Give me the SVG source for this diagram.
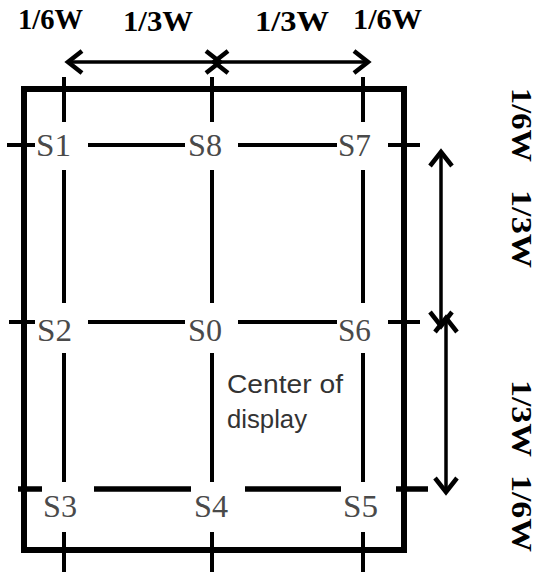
<svg xmlns="http://www.w3.org/2000/svg" width="538" height="575" viewBox="0 0 538 575">
<style>
.frame{fill:none;stroke:#000;stroke-width:6}
.g{stroke:#000;stroke-width:4;fill:none}
.gb{stroke:#000;stroke-width:5.5;fill:none}
.ar{stroke:#000;stroke-width:3.5;fill:none}
.s{font-family:"Liberation Serif","Times New Roman",serif;font-size:31px;fill:#4a4a4a}
.dim{font-family:"Liberation Serif","Times New Roman",serif;font-size:30px;font-weight:bold;fill:#000}
.c{font-family:"Liberation Sans",Arial,sans-serif;font-size:25px;fill:#333}
</style>
<defs>
<marker id="ah" viewBox="-18 -14 26 28" refX="0" refY="0" markerWidth="26" markerHeight="28" markerUnits="userSpaceOnUse" orient="auto-start-reverse">
<path d="M-14,-11 L0,0 L-14,11" fill="none" stroke="#000" stroke-width="4.5"/>
</marker>
</defs>
<rect id="display" class="frame" x="24" y="89" width="380" height="461"/>
<g id="grid">
<path class="g" d="M64,77V122M64,170V303M64,353V482M64,532V572"/>
<path class="g" d="M212,77V122M212,170V303M212,353V482M212,532V572"/>
<path class="g" d="M363,77V122M363,170V303M363,353V482M363,532V572"/>
<path class="g" d="M7,145H35M88,145H185M238,145H337M388,145H420"/>
<path class="g" d="M9,322H35M88,322H185M238,322H337M388,322H420"/>
<path class="gb" d="M18,489H42M94,489H191M245,489H341M396,489H428"/>
</g>
<g id="connectors">
<line class="ar" x1="68" y1="62" x2="220" y2="62" marker-start="url(#ah)" marker-end="url(#ah)"/>
<line class="ar" x1="214" y1="62" x2="368" y2="62" marker-start="url(#ah)" marker-end="url(#ah)"/>
<line class="ar" x1="441" y1="152" x2="441" y2="326" marker-start="url(#ah)" marker-end="url(#ah)"/>
<line class="ar" x1="446" y1="318" x2="446" y2="492" marker-start="url(#ah)" marker-end="url(#ah)"/>
</g>
<g id="S1"><text class="s" x="36" y="156" textLength="35" lengthAdjust="spacingAndGlyphs">S1</text></g>
<g id="S8"><text class="s" x="188" y="156" textLength="34" lengthAdjust="spacingAndGlyphs">S8</text></g>
<g id="S7"><text class="s" x="338" y="156" textLength="33" lengthAdjust="spacingAndGlyphs">S7</text></g>
<g id="S2"><text class="s" x="37" y="341" textLength="35" lengthAdjust="spacingAndGlyphs">S2</text></g>
<g id="S0"><text class="s" x="188" y="341" textLength="34" lengthAdjust="spacingAndGlyphs">S0</text></g>
<g id="S6"><text class="s" x="338" y="341" textLength="33" lengthAdjust="spacingAndGlyphs">S6</text></g>
<g id="S3"><text class="s" x="43" y="517" textLength="34" lengthAdjust="spacingAndGlyphs">S3</text></g>
<g id="S4"><text class="s" x="194" y="517" textLength="34" lengthAdjust="spacingAndGlyphs">S4</text></g>
<g id="S5"><text class="s" x="343" y="517" textLength="35" lengthAdjust="spacingAndGlyphs">S5</text></g>
<g id="center">
<text class="c" x="227" y="393" textLength="116" lengthAdjust="spacingAndGlyphs">Center of</text>
<text class="c" x="227" y="428" textLength="80" lengthAdjust="spacingAndGlyphs">display</text>
</g>
<g id="dims">
<text class="dim" x="18" y="29" textLength="65" lengthAdjust="spacingAndGlyphs">1/6W</text>
<text class="dim" x="123" y="31" textLength="70" lengthAdjust="spacingAndGlyphs">1/3W</text>
<text class="dim" x="255" y="31" textLength="74" lengthAdjust="spacingAndGlyphs">1/3W</text>
<text class="dim" x="353" y="29" textLength="69" lengthAdjust="spacingAndGlyphs">1/6W</text>
<text class="dim" transform="translate(512,88) rotate(90)" x="0" y="0" textLength="74" lengthAdjust="spacingAndGlyphs">1/6W</text>
<text class="dim" transform="translate(512,190) rotate(90)" x="0" y="0" textLength="78" lengthAdjust="spacingAndGlyphs">1/3W</text>
<text class="dim" transform="translate(512,380) rotate(90)" x="0" y="0" textLength="77" lengthAdjust="spacingAndGlyphs">1/3W</text>
<text class="dim" transform="translate(512,475) rotate(90)" x="0" y="0" textLength="77" lengthAdjust="spacingAndGlyphs">1/6W</text>
</g>
</svg>
